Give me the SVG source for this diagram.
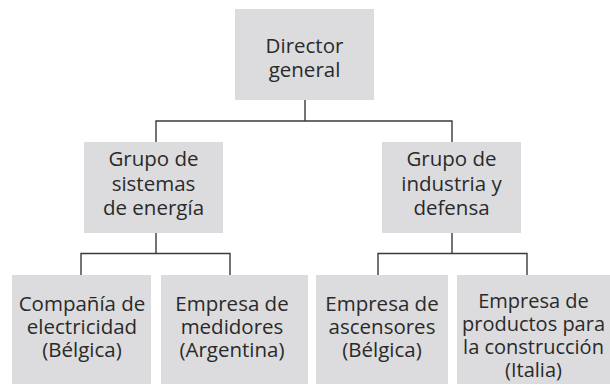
<svg xmlns="http://www.w3.org/2000/svg" width="610" height="385" viewBox="0 0 610 385">
<style>
.box{fill:#dcdcde;}
.t{font-family:"Open Sans",Lato,"DejaVu Sans",sans-serif;font-size:20.5px;fill:#2a2a2a;text-anchor:middle;}
.s{font-size:20px;}
.c{fill:none;stroke:#3a3a3a;stroke-width:1.4;}
</style>
<rect width="610" height="385" fill="#ffffff"/>
<g id="connectors" class="c">
<path d="M305 100V121M156 142V121H452V142"/>
<path d="M156 233V253.5M81 275V253.5H230V275"/>
<path d="M452 233V253.5M378 275V253.5H527V275"/>
</g>
<g id="director">
<rect class="box" x="235" y="9" width="139" height="91"/>
<text class="t"><tspan x="304.5" y="53">Director</tspan><tspan x="304.5" y="77">general</tspan></text>
</g>
<g id="grupo-energia">
<rect class="box" x="84" y="142" width="139" height="91"/>
<text class="t"><tspan x="153.5" y="166">Grupo de</tspan><tspan x="153.5" y="191">sistemas</tspan><tspan x="153.5" y="215">de energía</tspan></text>
</g>
<g id="grupo-industria">
<rect class="box" x="382" y="142" width="139" height="91"/>
<text class="t"><tspan x="451.5" y="166">Grupo de</tspan><tspan x="451.5" y="191">industria y</tspan><tspan x="451.5" y="215">defensa</tspan></text>
</g>
<g id="compania-electricidad">
<rect class="box" x="12" y="275" width="139" height="109"/>
<text class="t"><tspan x="82" y="311">Compañía de</tspan><tspan x="82" y="334">electricidad</tspan><tspan x="82" y="357">(Bélgica)</tspan></text>
</g>
<g id="empresa-medidores">
<rect class="box" x="161" y="275" width="147" height="109"/>
<text class="t"><tspan x="232" y="311">Empresa de</tspan><tspan x="232" y="334">medidores</tspan><tspan x="232" y="357">(Argentina)</tspan></text>
</g>
<g id="empresa-ascensores">
<rect class="box" x="316" y="275" width="132" height="109"/>
<text class="t"><tspan x="382" y="311">Empresa de</tspan><tspan x="382" y="334">ascensores</tspan><tspan x="382" y="357">(Bélgica)</tspan></text>
</g>
<g id="empresa-construccion">
<rect class="box" x="457" y="275" width="153" height="109"/>
<text class="t s"><tspan x="533.5" y="308">Empresa de</tspan><tspan x="533.5" y="331">productos para</tspan><tspan x="533.5" y="354">la construcción</tspan><tspan x="533.5" y="377">(Italia)</tspan></text>
</g>
</svg>
